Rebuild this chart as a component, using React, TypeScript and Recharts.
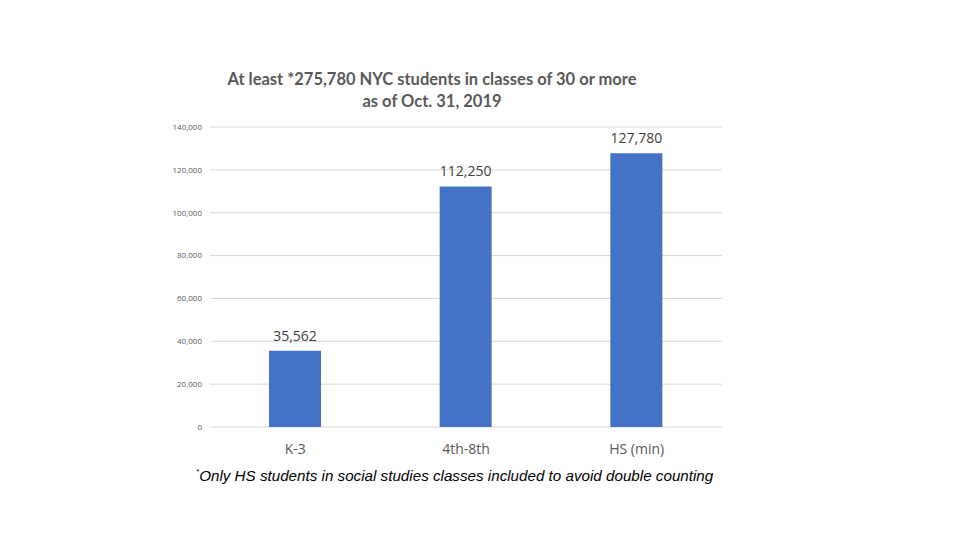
import { BarChart, Bar, XAxis, YAxis, CartesianGrid, LabelList } from "recharts";

const grades = ["K-3", "4th-8th", "HS (min)"];
const students = [35562, 112250, 127780];
const yTicks = [0, 20000, 40000, 60000, 80000, 100000, 120000, 140000];

const data = grades.map((grade, i) => ({ grade, students: students[i] }));

const fmt = (v: number) => v.toLocaleString("en-US");

function App() {
  return (
    <div style={{ position: "absolute", left: 0, top: 0, width: 960, height: 540, background: "#fff" }}>
      <div
        style={{
          position: "absolute",
          left: 182,
          width: 500,
          top: 68,
          textAlign: "center",
          fontFamily: "Lato",
          fontWeight: 700,
          fontSize: 16.5,
          lineHeight: "22px",
          color: "#595959",
        }}
      >
        At least *275,780 NYC students in classes of 30 or more
        <br />
        as of Oct. 31, 2019
      </div>

      <BarChart
        width={960}
        height={540}
        data={data}
        margin={{ top: 127, right: 238, bottom: 83, left: 150 }}
        barSize={52}
      >
        <CartesianGrid vertical={false} stroke="#d9d9d9" />
        <XAxis
          dataKey="grade"
          height={30}
          axisLine={false}
          tickLine={false}
          tickMargin={11}
          tick={{ fontSize: 14, fontFamily: "Open Sans", fill: "#595959" }}
        />
        <YAxis
          width={60}
          domain={[0, 140000]}
          ticks={yTicks}
          tickFormatter={fmt}
          axisLine={false}
          tickLine={false}
          tick={{ fontSize: 8, fontFamily: "Open Sans", fill: "#595959" }}
        />
        <Bar dataKey="students" fill="#4472c4" isAnimationActive={false}>
          <LabelList
            dataKey="students"
            position="top"
            offset={10}
            formatter={(v: any) => fmt(Number(v))}
            style={{ fontSize: 14, fontFamily: "Open Sans", fill: "#404040" }}
          />
        </Bar>
      </BarChart>

      <div
        style={{
          position: "absolute",
          left: 196,
          top: 467,
          fontFamily: "Liberation Sans",
          fontStyle: "italic",
          fontSize: 15.2,
          color: "#000",
          whiteSpace: "nowrap",
        }}
      >
        <span style={{ fontSize: 8, verticalAlign: "top" }}>*</span>Only HS students in social studies classes included to avoid double counting
      </div>
    </div>
  );
}

export default App;
